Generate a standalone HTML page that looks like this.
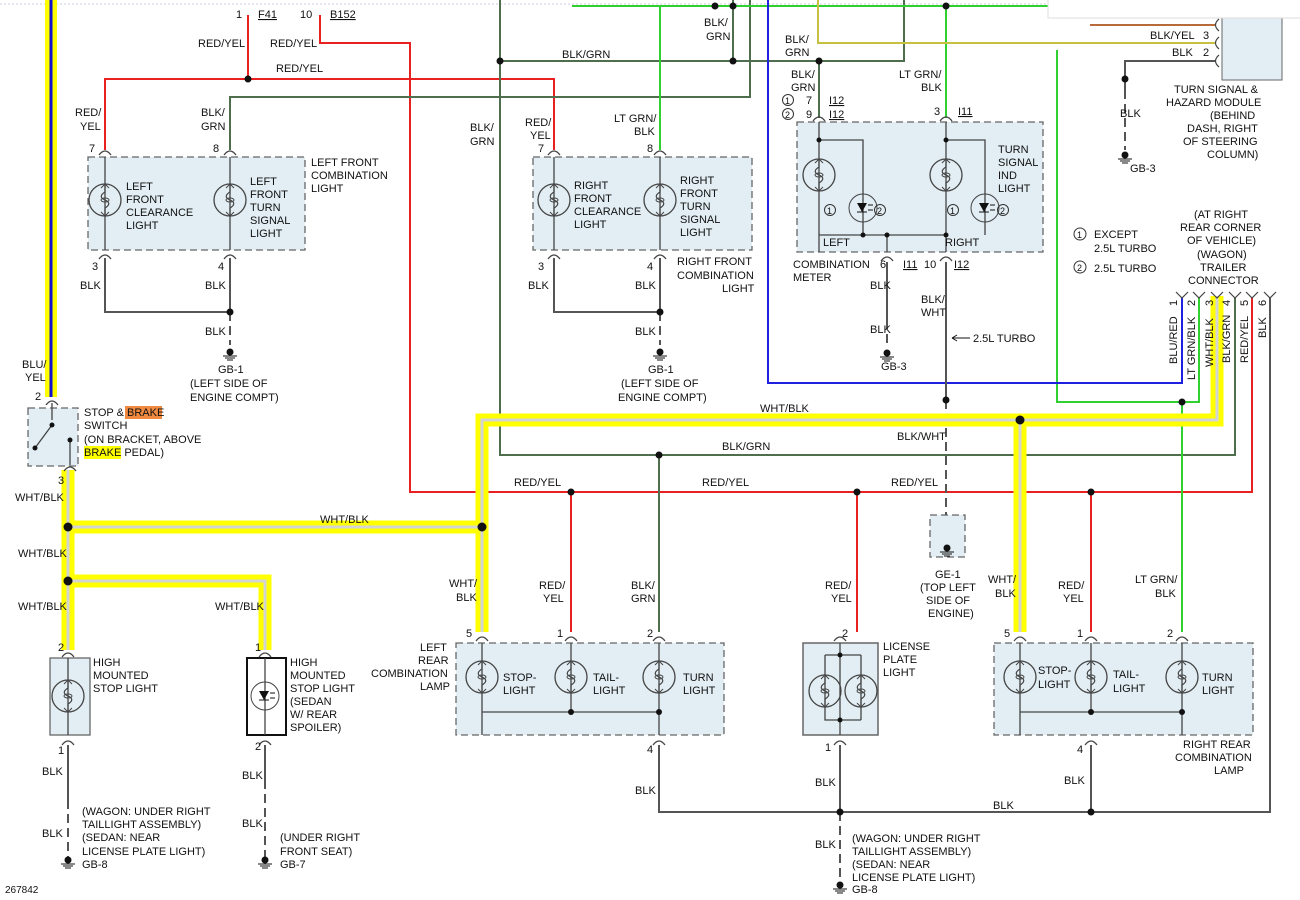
<!DOCTYPE html>
<html><head><meta charset="utf-8"><style>
body{margin:0;background:#fff}
svg{display:block}
text{font-family:"Liberation Sans",sans-serif;font-size:11px;fill:#111}
.u{text-decoration:underline}
</style></head><body>
<svg width="1300" height="900" viewBox="0 0 1300 900" xmlns="http://www.w3.org/2000/svg">
<defs>
<symbol id="lamp" viewBox="-18 -18 36 36" width="36" height="36" overflow="visible">
<circle cx="0" cy="0" r="16" fill="none" stroke="#444" stroke-width="1.3"/>
<path d="M0,-16 V-8 C-5,-5 -5,-2 0,0 C5,2 5,5 0,8 V16" fill="none" stroke="#444" stroke-width="1.2"/>
<ellipse cx="0" cy="0" rx="4" ry="2" fill="none" stroke="#444"/>
<path d="M-4,-12 L0,-16 L4,-12 M-4,12 L0,16 L4,12" fill="none" stroke="#444"/>
</symbol>
<symbol id="led" viewBox="-16 -16 32 32" width="32" height="32" overflow="visible">
<circle r="14" fill="none" stroke="#444"/>
<path d="M-6,-5 H4 L-1,4 Z" fill="#111"/><path d="M-6,4 H4" stroke="#111"/>
<path d="M5,-3 H10 M5,2 H10" stroke="#111"/>
</symbol>
<symbol id="gnd" viewBox="-10 -10 20 20" width="20" height="20" overflow="visible">
<circle r="3.5" fill="#111"/><path d="M-7,4 H7 M-5,6 H5 M-3,8 H3" stroke="#111"/>
</symbol>
</defs>
<rect width="1300" height="900" fill="#fff"/>
<line x1="0" y1="4" x2="1300" y2="4" stroke="#ccd" stroke-dasharray="2,2"/>

<g fill="#e2eef4" stroke="#666" stroke-dasharray="7,4" stroke-width="1.3">
<rect x="88" y="157" width="217" height="93"/>
<rect x="533" y="157" width="219" height="93"/>
<rect x="797" y="122" width="246" height="130"/>
<rect x="28" y="408" width="50" height="58"/>
<rect x="456" y="643" width="268" height="92"/>
<rect x="994" y="643" width="259" height="92"/>
<rect x="930" y="515" width="35" height="42"/>
</g>
<rect x="50" y="658" width="40" height="77" fill="#e2eef4" stroke="#666" stroke-width="1.3"/>
<rect x="247" y="658" width="39" height="77" fill="#fff" stroke="#111" stroke-width="2"/>
<rect x="803" y="643" width="75" height="92" fill="#e2eef4" stroke="#666" stroke-width="1.5"/>
<rect x="1222" y="18" width="60" height="62" fill="#e2eef4" stroke="#666"/>

<g fill="none" stroke-width="2">
<line x1="51" y1="0" x2="51" y2="397" stroke="#ff0" stroke-width="12"/>
<line x1="51" y1="0" x2="51" y2="397" stroke="#1010d0" stroke-width="3"/>
<g stroke="#e82020">
<path d="M248,15 V79 M105,150 V79 H554 V150"/>
<path d="M320,15 V43 H410 V492 H1252 V298"/>
<path d="M571,492 V632 M857,492 V632 M1091,492 V632"/>
<path d="M1090,25 H1215" stroke="#b86a3a"/>
</g>
<g stroke="#4e6e4e">
<path d="M230,150 V97 H750 V0"/>
<path d="M500,0 V455 H1235 V298"/>
<path d="M500,61 H904 V0 M733,0 V61 M819,61 V118 M659,455 V632"/>
</g>
<g stroke="#30d030">
<path d="M572,6 H1048"/>
<path d="M660,6 V150 M946,6 V118"/>
<path d="M1057,50 V402 H1199 V298 M1182,402 V632"/>
</g>
<path d="M768,0 V383 H1182 V298" stroke="#2020e0"/>
<path d="M818,0 V43 H1215" stroke="#c8c040"/>
<g stroke="#555">
<path d="M105,258 V312 H230 M230,258 V312 M554,258 V312 H660 M660,258 V312"/>
<path d="M887,262 V320 M946,262 V400"/>
<path d="M659,745 V812 H1270 V298 M840,745 V812 M1091,745 V812"/>
<path d="M68,745 V800 M265,745 V780"/>
<path d="M1215,61 H1125 V90"/>
</g>
<g stroke="#555" stroke-dasharray="9,5">
<path d="M230,312 V345 M660,312 V345 M887,320 V348 M1125,90 V150"/>
<path d="M946,400 V515 M68,800 V858 M265,780 V858 M840,812 V885"/>
</g>
<g stroke="#ffff00" stroke-width="13" stroke-linejoin="miter">
<path d="M68,470 V650 M68,527 H482 M68,581 H265 V650 M482,632 V420 H1217 V296 M1020,420 V632"/>
</g>
<g stroke="#d4d4d4" stroke-width="3">
<path d="M68,470 V650 M68,527 H482 M68,581 H265 V650 M482,632 V420 H1217 V296 M1020,420 V632"/>
</g>
</g>

<!-- pin arcs -->
<g fill="none" stroke="#444" stroke-width="1.2">
<path d="M99,155 Q105,147 111,155 M224,155 Q230,147 236,155 M99,259 Q105,251 111,259 M224,259 Q230,251 236,259
M548,155 Q554,147 560,155 M654,155 Q660,147 666,155 M548,259 Q554,251 560,259 M654,259 Q660,251 666,259
M813,121 Q819,113 825,121 M940,121 Q946,113 952,121 M881,261 Q887,253 893,261 M940,261 Q946,253 952,261
M46,405 Q52,397 58,405 M64,471 Q70,463 76,471
M62,657 Q68,649 74,657 M62,745 Q68,737 74,745 M259,657 Q265,649 271,657 M259,745 Q265,737 271,745
M476,641 Q482,633 488,641 M565,641 Q571,633 577,641 M653,641 Q659,633 665,641 M653,745 Q659,737 665,745
M834,641 Q840,633 846,641 M834,745 Q840,737 846,745
M1014,641 Q1020,633 1026,641 M1085,641 Q1091,633 1097,641 M1176,641 Q1182,633 1188,641 M1085,745 Q1091,737 1097,745
M1176,292 L1182,298 L1188,292 M1193,292 L1199,298 L1205,292 M1211,292 L1217,298 L1223,292 M1229,292 L1235,298 L1241,292 M1246,292 L1252,298 L1258,292 M1264,292 L1270,298 L1276,292
M1219,19 Q1212,25 1219,31 M1219,37 Q1212,43 1219,49 M1219,55 Q1212,61 1219,67"/>
</g>

<g stroke="#444" fill="none" stroke-width="1.3">
<path d="M105,157 V250 M230,157 V250 M554,157 V250 M660,157 V250"/>
<path d="M819,122 V252 M946,122 V252 M819,140 H863 V235 M946,140 H985 V235 M819,235 H946 M887,235 V252"/>
<path d="M482,643 V735 M571,643 V712 M659,643 V735 M482,712 H659"/>
<path d="M1020,643 V735 M1091,643 V712 M1182,643 V735 M1020,712 H1182"/>
<path d="M68,658 V735 M265,658 V735"/>
<path d="M840,643 V735 M825,655 H861 M825,655 V720 H861 M861,655 V720"/>
<path d="M52,403 V420 M35,448 L52,425 M70,440 V465"/>
</g>
<g fill="#111">
<circle cx="35" cy="448" r="2.5"/><circle cx="52" cy="425" r="2.5"/><circle cx="70" cy="440" r="2.5"/>
<circle cx="248" cy="79" r="3.5"/><circle cx="500" cy="61" r="3.5"/><circle cx="733" cy="61" r="3.5"/><circle cx="819" cy="61" r="3.5"/>
<circle cx="715" cy="6" r="3.5"/><circle cx="946" cy="6" r="3.5"/><circle cx="733" cy="6" r="3.5"/>
<circle cx="230" cy="312" r="3.5"/><circle cx="660" cy="312" r="3.5"/>
<circle cx="571" cy="492" r="3.5"/><circle cx="857" cy="492" r="3.5"/><circle cx="1091" cy="492" r="3.5"/>
<circle cx="659" cy="455" r="3.5"/><circle cx="1182" cy="402" r="3.5"/><circle cx="946" cy="400" r="3.5"/>
<circle cx="68" cy="527" r="4.5"/><circle cx="68" cy="581" r="4.5"/><circle cx="482" cy="527" r="4.5"/><circle cx="1020" cy="420" r="4.5"/>
<circle cx="571" cy="712" r="3"/><circle cx="659" cy="712" r="3"/><circle cx="1091" cy="712" r="3"/><circle cx="1182" cy="712" r="3"/>
<circle cx="840" cy="812" r="3.5"/><circle cx="1091" cy="812" r="3.5"/><circle cx="1125" cy="79" r="3.5"/>
<circle cx="819" cy="140" r="2.5"/><circle cx="946" cy="140" r="2.5"/><circle cx="863" cy="235" r="2.5"/><circle cx="887" cy="235" r="2.5"/><circle cx="946" cy="235" r="2.5"/>
<circle cx="840" cy="655" r="2.5"/><circle cx="840" cy="720" r="2.5"/>
</g>

<g>
<use href="#lamp" x="87" y="182"/><use href="#lamp" x="212" y="182"/>
<use href="#lamp" x="536" y="182"/><use href="#lamp" x="642" y="182"/>
<use href="#lamp" x="801" y="157"/><use href="#lamp" x="928" y="157"/>
<use href="#lamp" x="464" y="659"/><use href="#lamp" x="553" y="659"/><use href="#lamp" x="641" y="659"/>
<use href="#lamp" x="1002" y="659"/><use href="#lamp" x="1073" y="659"/><use href="#lamp" x="1164" y="659"/>
<use href="#lamp" x="807" y="673"/><use href="#lamp" x="843" y="673"/>
<use href="#lamp" x="50" y="678"/>
<use href="#led" x="847" y="192"/><use href="#led" x="969" y="192"/><use href="#led" x="249" y="680"/>
<use href="#gnd" x="220" y="342"/><use href="#gnd" x="650" y="342"/><use href="#gnd" x="877" y="343"/><use href="#gnd" x="1115" y="145"/>
<use href="#gnd" x="58" y="850"/><use href="#gnd" x="255" y="850"/><use href="#gnd" x="830" y="875"/><use href="#gnd" x="937" y="538"/>
</g>

<rect x="1048" y="-2" width="260" height="20" fill="#fff" stroke="#ddd"/>

<g>
<text x="236" y="18">1</text><text x="258" y="18" class="u">F41</text><text x="300" y="18">10</text><text x="330" y="18" class="u">B152</text>
<text x="198" y="47">RED/YEL</text><text x="270" y="47">RED/YEL</text><text x="276" y="72">RED/YEL</text>
<text x="75" y="116">RED/</text><text x="80" y="130">YEL</text><text x="201" y="116">BLK/</text><text x="201" y="130">GRN</text>
<text x="89" y="152">7</text><text x="213" y="152">8</text>
<text x="126" y="190">LEFT</text><text x="126" y="203">FRONT</text><text x="126" y="216">CLEARANCE</text><text x="126" y="229">LIGHT</text>
<text x="250" y="185">LEFT</text><text x="250" y="198">FRONT</text><text x="250" y="211">TURN</text><text x="250" y="224">SIGNAL</text><text x="250" y="237">LIGHT</text>
<text x="311" y="166">LEFT FRONT</text><text x="311" y="179">COMBINATION</text><text x="311" y="192">LIGHT</text>
<text x="92" y="270">3</text><text x="218" y="270">4</text><text x="80" y="289">BLK</text><text x="205" y="289">BLK</text><text x="205" y="335">BLK</text>
<text x="218" y="373">GB-1</text><text x="190" y="387">(LEFT SIDE OF</text><text x="190" y="401">ENGINE COMPT)</text>
<text x="470" y="131">BLK/</text><text x="470" y="145">GRN</text><text x="525" y="126">RED/</text><text x="530" y="139">YEL</text>
<text x="614" y="122">LT GRN/</text><text x="634" y="135">BLK</text><text x="538" y="152">7</text><text x="647" y="152">8</text>
<text x="574" y="189">RIGHT</text><text x="574" y="202">FRONT</text><text x="574" y="215">CLEARANCE</text><text x="574" y="228">LIGHT</text>
<text x="680" y="184">RIGHT</text><text x="680" y="197">FRONT</text><text x="680" y="210">TURN</text><text x="680" y="223">SIGNAL</text><text x="680" y="236">LIGHT</text>
<text x="538" y="270">3</text><text x="647" y="270">4</text><text x="677" y="265">RIGHT FRONT</text><text x="677" y="279">COMBINATION</text><text x="722" y="292">LIGHT</text>
<text x="528" y="289">BLK</text><text x="635" y="289">BLK</text><text x="635" y="335">BLK</text>
<text x="648" y="373">GB-1</text><text x="621" y="387">(LEFT SIDE OF</text><text x="618" y="401">ENGINE COMPT)</text>
<text x="562" y="58">BLK/GRN</text><text x="704" y="26">BLK/</text><text x="706" y="40">GRN</text><text x="785" y="43">BLK/</text><text x="785" y="56">GRN</text>
<text x="791" y="78">BLK/</text><text x="791" y="91">GRN</text>
<circle cx="788" cy="100" r="5.5" fill="none" stroke="#333"/><text x="785" y="104" style="font-size:9px">1</text>
<circle cx="788" cy="114" r="5.5" fill="none" stroke="#333"/><text x="785" y="118" style="font-size:9px">2</text>
<text x="806" y="104">7</text><text x="829" y="104" class="u">I12</text><text x="806" y="118">9</text><text x="829" y="118" class="u">I12</text>
<text x="899" y="78">LT GRN/</text><text x="921" y="91">BLK</text><text x="934" y="115">3</text><text x="958" y="115" class="u">I11</text>
<text x="998" y="153">TURN</text><text x="998" y="166">SIGNAL</text><text x="998" y="179">IND</text><text x="998" y="192">LIGHT</text>
<circle cx="830" cy="210" r="5.5" fill="none" stroke="#333"/><text x="827" y="214" style="font-size:9px">1</text>
<circle cx="880" cy="210" r="5.5" fill="none" stroke="#333"/><text x="877" y="214" style="font-size:9px">2</text>
<circle cx="953" cy="210" r="5.5" fill="none" stroke="#333"/><text x="950" y="214" style="font-size:9px">1</text>
<circle cx="1003" cy="210" r="5.5" fill="none" stroke="#333"/><text x="1000" y="214" style="font-size:9px">2</text>
<text x="823" y="246">LEFT</text><text x="945" y="246">RIGHT</text><text x="793" y="268">COMBINATION</text><text x="793" y="281">METER</text>
<text x="880" y="268">6</text><text x="903" y="268" class="u">I11</text><text x="924" y="268">10</text><text x="954" y="268" class="u">I12</text>
<text x="870" y="289">BLK</text><text x="870" y="333">BLK</text><text x="881" y="370">GB-3</text>
<text x="921" y="303">BLK/</text><text x="921" y="316">WHT</text>
<path d="M952,338 H970 M952,338 l5,-3 M952,338 l5,3" stroke="#111" fill="none"/><text x="973" y="342">2.5L TURBO</text>
<text x="1150" y="39">BLK/YEL</text><text x="1203" y="39">3</text><text x="1172" y="56">BLK</text><text x="1203" y="56">2</text>
<text x="1174" y="93">TURN SIGNAL &amp;</text><text x="1166" y="106">HAZARD MODULE</text><text x="1210" y="119">(BEHIND</text>
<text x="1187" y="132">DASH, RIGHT</text><text x="1183" y="145">OF STEERING</text><text x="1207" y="158">COLUMN)</text>
<text x="1120" y="117">BLK</text><text x="1130" y="172">GB-3</text>
<circle cx="1080" cy="234" r="6" fill="none" stroke="#333"/><text x="1077" y="238" style="font-size:9px">1</text>
<text x="1094" y="238">EXCEPT</text><text x="1094" y="252">2.5L TURBO</text>
<circle cx="1080" cy="267" r="6" fill="none" stroke="#333"/><text x="1077" y="271" style="font-size:9px">2</text><text x="1094" y="272">2.5L TURBO</text>
<text x="1194" y="218">(AT RIGHT</text><text x="1180" y="231">REAR CORNER</text><text x="1187" y="244">OF VEHICLE)</text>
<text x="1197" y="258">(WAGON)</text><text x="1200" y="271">TRAILER</text><text x="1188" y="284">CONNECTOR</text>
<g transform="rotate(-90)">
<text x="-306" y="1177">1</text><text x="-306" y="1195">2</text><text x="-306" y="1213">3</text><text x="-306" y="1230">4</text><text x="-306" y="1248">5</text><text x="-306" y="1266">6</text>
<text x="-364" y="1177">BLU/RED</text><text x="-380" y="1195">LT GRN/BLK</text><text x="-367" y="1213">WHT/BLK</text><text x="-363" y="1230">BLK/GRN</text><text x="-363" y="1248">RED/YEL</text><text x="-338" y="1266">BLK</text>
</g>
<text x="760" y="412">WHT/BLK</text><text x="897" y="440">BLK/WHT</text><text x="722" y="450">BLK/GRN</text>
<text x="514" y="486">RED/YEL</text><text x="702" y="486">RED/YEL</text><text x="891" y="486">RED/YEL</text>
<text x="320" y="523">WHT/BLK</text><text x="15" y="501">WHT/BLK</text><text x="18" y="557">WHT/BLK</text><text x="18" y="610">WHT/BLK</text><text x="215" y="610">WHT/BLK</text>
<text x="22" y="368">BLU/</text><text x="25" y="381">YEL</text><text x="35" y="400">2</text><text x="58" y="484">3</text>
<rect x="125" y="406" width="37" height="13" fill="#f08a40"/><rect x="84" y="446" width="37" height="13" fill="#ffff00"/>
<text x="84" y="416">STOP &amp; BRAKE</text><text x="84" y="429">SWITCH</text><text x="84" y="443">(ON BRACKET, ABOVE</text><text x="84" y="456">BRAKE PEDAL)</text>
<text x="58" y="651">2</text><text x="93" y="666">HIGH</text><text x="93" y="679">MOUNTED</text><text x="93" y="692">STOP LIGHT</text>
<text x="58" y="754">1</text><text x="42" y="775">BLK</text><text x="42" y="837">BLK</text>
<text x="82" y="815">(WAGON: UNDER RIGHT</text><text x="82" y="828">TAILLIGHT ASSEMBLY)</text><text x="82" y="841">(SEDAN: NEAR</text><text x="82" y="855">LICENSE PLATE LIGHT)</text><text x="82" y="868">GB-8</text>
<text x="255" y="651">1</text><text x="290" y="666">HIGH</text><text x="290" y="679">MOUNTED</text><text x="290" y="692">STOP LIGHT</text><text x="290" y="705">(SEDAN</text><text x="290" y="718">W/ REAR</text><text x="290" y="731">SPOILER)</text>
<text x="255" y="750">2</text><text x="242" y="779">BLK</text><text x="242" y="827">BLK</text>
<text x="280" y="841">(UNDER RIGHT</text><text x="280" y="855">FRONT SEAT)</text><text x="280" y="868">GB-7</text>
<text x="449" y="587">WHT/</text><text x="456" y="601">BLK</text><text x="539" y="589">RED/</text><text x="543" y="602">YEL</text><text x="631" y="589">BLK/</text><text x="631" y="602">GRN</text>
<text x="466" y="637">5</text><text x="557" y="637">1</text><text x="647" y="637">2</text>
<text x="420" y="651">LEFT</text><text x="418" y="664">REAR</text><text x="371" y="677">COMBINATION</text><text x="420" y="690">LAMP</text>
<text x="503" y="681">STOP-</text><text x="503" y="694">LIGHT</text><text x="593" y="681">TAIL-</text><text x="593" y="694">LIGHT</text><text x="683" y="681">TURN</text><text x="683" y="694">LIGHT</text>
<text x="647" y="753">4</text><text x="635" y="794">BLK</text>
<text x="825" y="589">RED/</text><text x="831" y="602">YEL</text><text x="842" y="637">2</text>
<text x="883" y="650">LICENSE</text><text x="883" y="663">PLATE</text><text x="883" y="676">LIGHT</text>
<text x="825" y="751">1</text><text x="815" y="786">BLK</text><text x="815" y="848">BLK</text>
<text x="852" y="842">(WAGON: UNDER RIGHT</text><text x="852" y="855">TAILLIGHT ASSEMBLY)</text><text x="852" y="868">(SEDAN: NEAR</text><text x="852" y="881">LICENSE PLATE LIGHT)</text><text x="852" y="893">GB-8</text>
<text x="935" y="578">GE-1</text><text x="920" y="591">(TOP LEFT</text><text x="926" y="604">SIDE OF</text><text x="928" y="617">ENGINE)</text>
<text x="988" y="583">WHT/</text><text x="995" y="597">BLK</text><text x="1058" y="589">RED/</text><text x="1063" y="602">YEL</text><text x="1135" y="583">LT GRN/</text><text x="1155" y="597">BLK</text>
<text x="1004" y="637">5</text><text x="1077" y="637">1</text><text x="1167" y="637">2</text>
<text x="1038" y="674">STOP-</text><text x="1038" y="688">LIGHT</text><text x="1113" y="678">TAIL-</text><text x="1113" y="692">LIGHT</text><text x="1202" y="681">TURN</text><text x="1202" y="694">LIGHT</text>
<text x="1077" y="753">4</text><text x="1064" y="784">BLK</text><text x="993" y="809">BLK</text>
<text x="1183" y="748">RIGHT REAR</text><text x="1175" y="761">COMBINATION</text><text x="1214" y="774">LAMP</text>
<text x="5" y="893" style="font-size:10px">267842</text>
</g>
</svg>
</body></html>
